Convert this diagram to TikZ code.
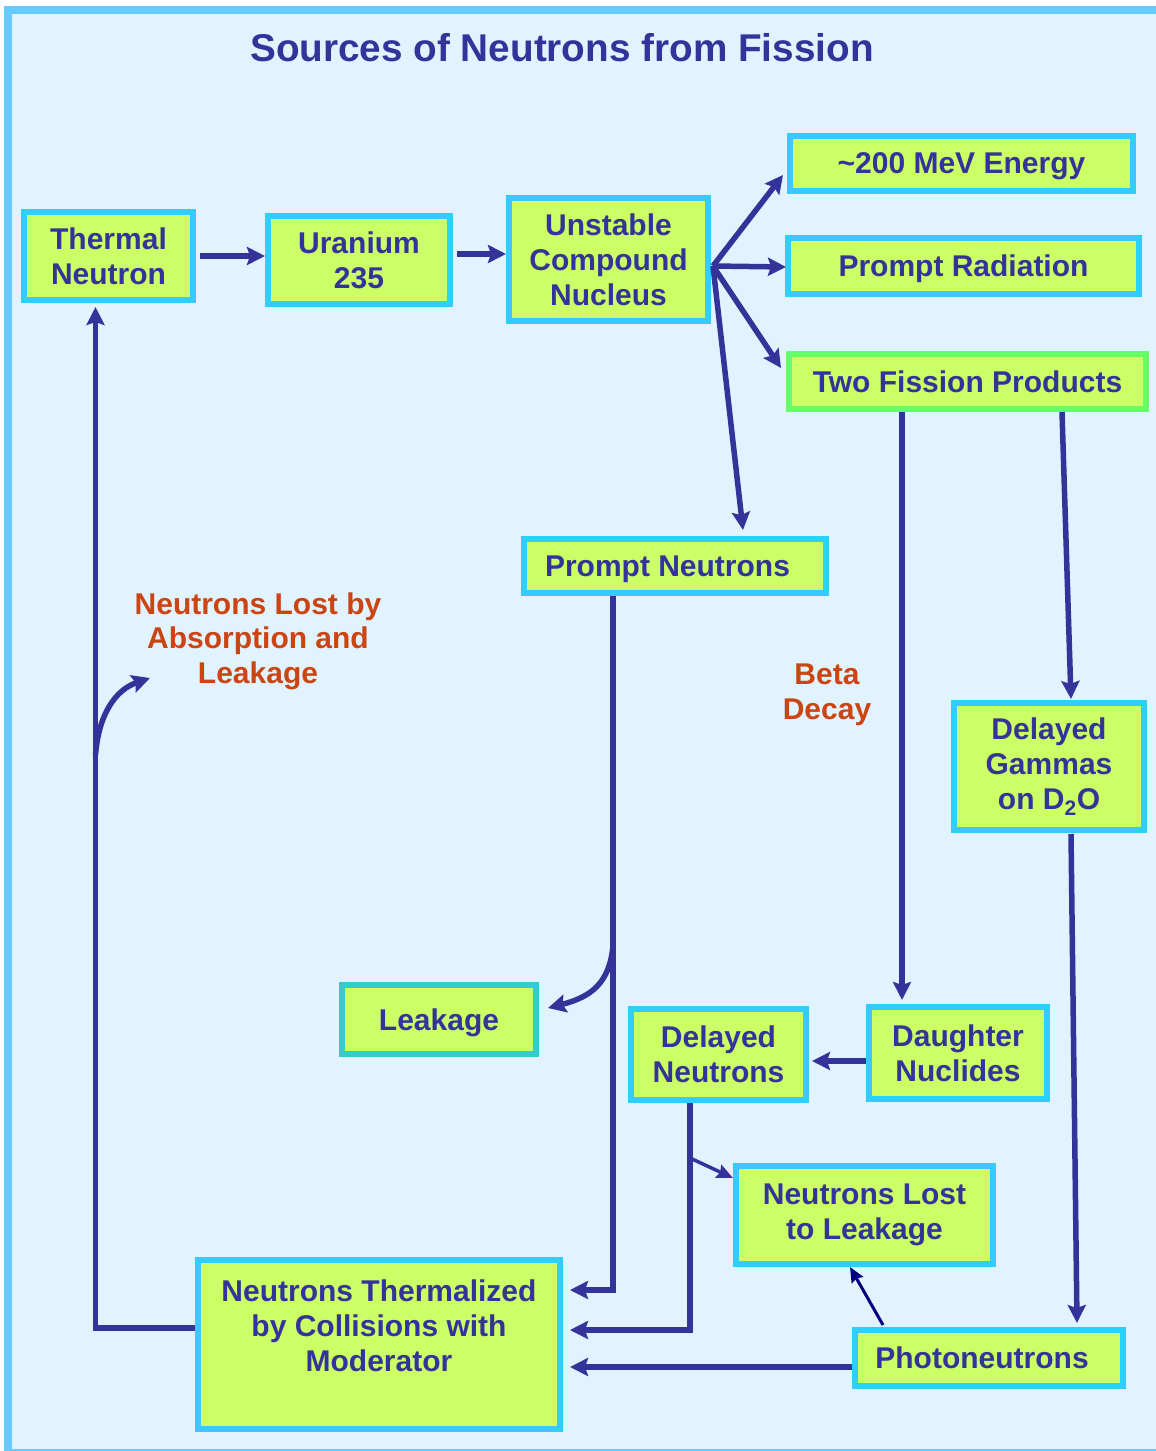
\documentclass[tikz,border=0pt]{standalone}
\usepackage{fontspec}
\setmainfont{Liberation Sans}
\usetikzlibrary{arrows.meta,calc}
\definecolor{navy}{HTML}{333399}
\definecolor{darknavy}{HTML}{000080}
\definecolor{boxfill}{HTML}{CCFF66}
\definecolor{boxline}{HTML}{33CCFF}
\definecolor{tealline}{HTML}{33CCCC}
\definecolor{greenline}{HTML}{66FF66}
\definecolor{redtext}{HTML}{CC4411}
\definecolor{bgcol}{HTML}{E1F3FF}
\definecolor{framecol}{HTML}{66CCFF}
\begin{document}
\begin{tikzpicture}[x=1pt,y=-1pt,
  box/.style={draw=boxline, fill=boxfill, line width=6pt, text=navy,
    font=\bfseries\fontsize{30}{35}\selectfont, align=center, inner sep=0pt},
  single/.style={text depth=0pt},
  plain/.style={text=navy, font=\bfseries\fontsize{30}{35}\selectfont, align=center, inner sep=0pt},
  redlabel/.style={text=redtext, font=\bfseries\fontsize{30}{34.5}\selectfont, align=center, inner sep=0pt},
  titlestyle/.style={text=navy, font=\bfseries\fontsize{38.7}{44}\selectfont, inner sep=0pt},
  arr/.style={draw=navy, line width=5.5pt, -{Stealth[length=18pt,width=18pt,inset=3pt]}},
  arrthin/.style={draw=navy, line width=3.5pt, -{Stealth[length=16pt,width=14pt,inset=2pt]}},
  arrdark/.style={draw=darknavy, line width=3pt, -{Stealth[length=15pt,width=13pt,inset=2pt]}}
]
\useasboundingbox (0,0) rectangle (1156,1451);
\clip (0,0) rectangle (1156,1451);
\fill[white] (0,0) rectangle (1156,1451);
\draw[framecol, line width=8pt, fill=bgcol] (8,10) rectangle (1170,1453);

\node[titlestyle] (title) at (562,48) {Sources of Neutrons from Fission};

% boxes
\node[box, minimum width=169pt, minimum height=88pt] (thermal) at (108.5,256) {Thermal\\Neutron};
\node[box, minimum width=182pt, minimum height=88pt] (uranium) at (359,260) {Uranium\\235};
\node[box, minimum width=199pt, minimum height=123pt] (unstable) at (608.5,259.5) {Unstable\\Compound\\Nucleus};
\node[box, single, minimum width=343pt, minimum height=55pt] (energy) at (961.5,163.5) {\textasciitilde 200 MeV Energy};
\node[box, single, minimum width=351pt, minimum height=56pt] (radiation) at (963.5,266) {Prompt Radiation};
\node[box, single, draw=greenline, minimum width=357pt, minimum height=55pt] (fission) at (967.5,381.5) {Two Fission Products};
\node[box, single, minimum width=302pt, minimum height=54pt] (prompt) at (675,566) {\hspace*{-15pt}Prompt Neutrons};
\node[box, minimum width=190pt, minimum height=127pt] (gammas) at (1049,766.5) {Delayed\\Gammas\\on D\textsubscript{2}O};
\node[box, single, draw=tealline, minimum width=194pt, minimum height=69pt] (leakage) at (439,1019.5) {Leakage};
\node[box, minimum width=175pt, minimum height=91pt] (delayedn) at (718.5,1054.5) {Delayed\\Neutrons};
\node[box, minimum width=178pt, minimum height=92pt] (daughter) at (958,1053) {Daughter\\Nuclides};
\node[box, minimum width=257pt, minimum height=98pt] (lost) at (864.5,1215) {Neutrons Lost\\to Leakage};
\node[box, minimum width=362pt, minimum height=169pt] (thermalized) at (379,1344.5) {};
\node[plain] (thermtext) at (379,1326) {Neutrons Thermalized\\by Collisions with\\Moderator};
\node[box, single, minimum width=268pt, minimum height=56pt] (photo) at (989,1358) {\hspace*{-14pt}Photoneutrons};

% labels
\node[redlabel] (absorb) at (258,641) {Neutrons Lost by\\Absorption and\\Leakage};
\node[redlabel] (beta) at (827,695) {Beta\\Decay};

% connectors (anchors lie on the outer edge of the 6pt borders)
\draw[arr] ($(thermal.east)+(4,0)$) -- (uranium.west|-thermal.east);
\coordinate (u1) at ($(uranium.east)+(4,-6)$);
\draw[arr] (u1) -- (unstable.west|-u1);

\coordinate (fan) at ($(unstable.east)+(2,6.5)$);
\draw[arr] (fan) -- ($(energy.south west)+(-4,-19)$);
\draw[arr] (fan) -- ($(radiation.west)+(1,1)$);
\draw[arr] (fan) -- ($(fission.north west)+(-5,17)$);
\draw[arr] (fan) -- ($(prompt.north)+(68,-6)$);

\draw[arr] ($(fission.south west)+(116,0)$) -- ($(daughter.north west)+(36,-4)$);
\draw[arr] ($(fission.south east)+(-87,0)$) -- ($(gammas.north)+(22,-1)$);
\draw[arr] ($(gammas.south)+(22,1)$) -- ($(photo.north)+(88,-4)$);
\draw[arr] ($(daughter.west)+(0,8)$) -- ($(delayedn.east)+(3,6.5)$);

\coordinate (pstart) at ($(prompt.south west)+(92,0)$);
\draw[arr] (pstart) |- ($(thermalized.east)+(7,-54.5)$);
\coordinate (lb) at ($(pstart)+(0,349)$);
\draw[arr] (lb) .. controls ($(lb)+(-3,38)$) and ($(lb)+(-22,52)$) .. ($(leakage.east)+(9,-11.5)$);

\coordinate (dstart) at ($(delayedn.south west)+(62,0)$);
\draw[arr] (dstart) |- ($(thermalized.east)+(7,-14.5)$);
\coordinate (db) at ($(dstart)+(0,55)$);
\draw[arrthin] (db) -- ($(lost.north west)+(0,15)$);

\draw[arr] ($(photo.west)+(0,9)$) -- ($(thermalized.east)+(7,22.5)$);
\draw[arrdark] ($(photo.north west)+(31,-2)$) -- ($(lost.south)+(-14.5,0)$);

\coordinate (tstart) at ($(thermalized.west)+(0,-16.5)$);
\draw[arr] (tstart) -| ($(thermal.south)+(-13,4)$);
\coordinate (ab) at ($(thermal.south)+(-13,452)$);
\coordinate (abend) at (150,678);
\draw[arr] (ab) .. controls ($(ab)+(3,-40)$) and ($(abend)+(-35,12)$) .. (abend);
\end{tikzpicture}
\end{document}
